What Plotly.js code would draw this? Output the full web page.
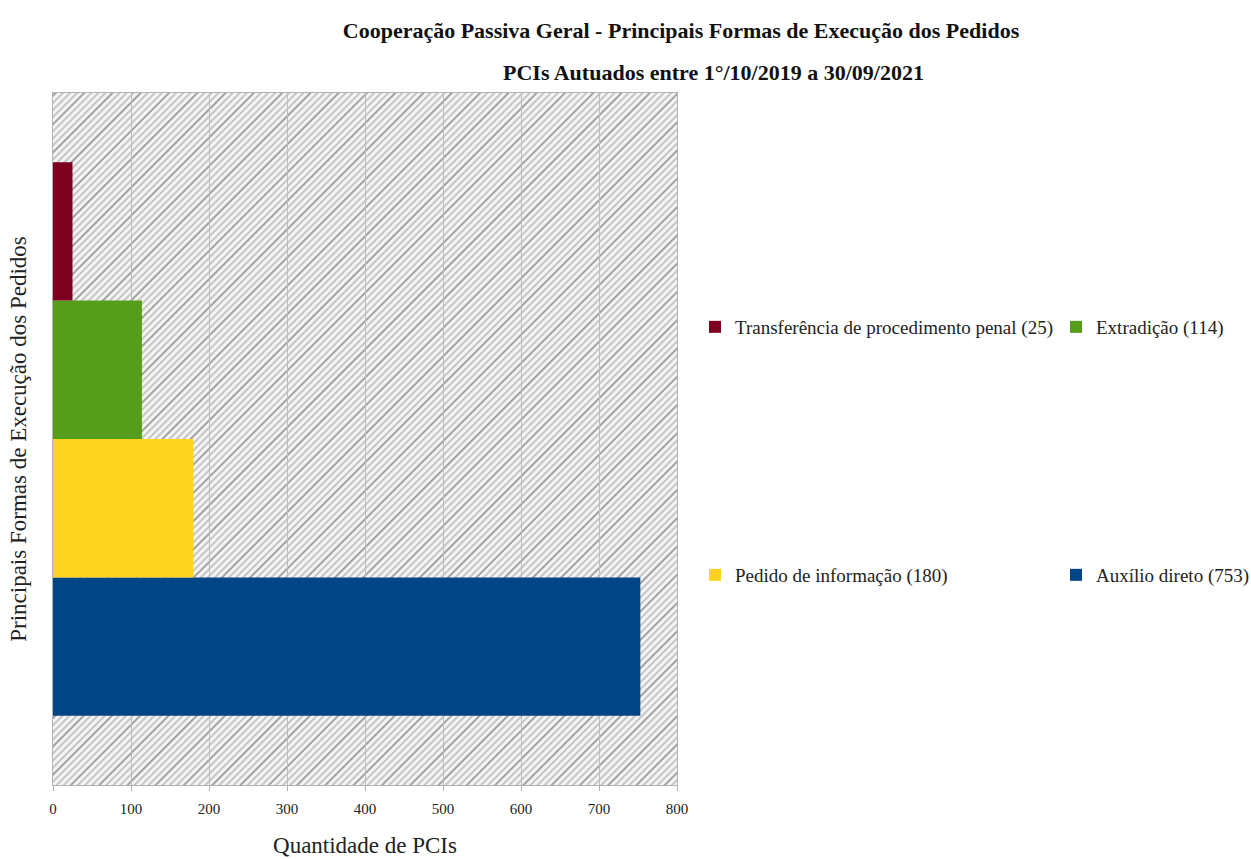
<!DOCTYPE html>
<html>
<head>
<meta charset="utf-8">
<script src="https://cdn.plot.ly/plotly-3.0.1.min.js"></script>
<style>html,body{margin:0;padding:0;background:#fff;}#chart{width:1251px;height:859px;}</style>
</head>
<body>
<div id="chart"></div>
<script>
// Data
const categoryLabel = ['PCIs'];
const seriesNames = ['Auxílio direto (753)', 'Pedido de informação (180)', 'Extradição (114)', 'Transferência de procedimento penal (25)'];
const seriesValues = [753, 180, 114, 25];
const seriesColors = ['#004586', '#ffd320', '#579d1c', '#7e0021'];
const legendIds = ['legend4', 'legend3', 'legend2', 'legend'];
const xTicks = [0, 100, 200, 300, 400, 500, 600, 700, 800];

const serif = 'Liberation Serif, Times New Roman, serif';

const traces = seriesNames.map((name, i) => ({
  type: 'bar',
  orientation: 'h',
  name: name,
  x: [seriesValues[i]],
  y: categoryLabel,
  marker: {color: seriesColors[i], line: {width: 0}},
  legend: legendIds[i],
  showlegend: true,
  hoverinfo: 'x+name'
}));

// hatched plot background
const W = 624, H = 692;
const svg = `<svg xmlns="http://www.w3.org/2000/svg" width="${W}" height="${H}" viewBox="0 0 ${W} ${H}" preserveAspectRatio="none">
<defs><pattern id="p" patternUnits="userSpaceOnUse" width="20" height="20" patternTransform="rotate(45)">
<rect width="20" height="20" fill="#f4f4f4"/>
<line x1="2" y1="0" x2="2" y2="20" stroke="#5e5e5e" stroke-width="1.1"/>
<line x1="7" y1="0" x2="7" y2="20" stroke="#a0a0a0" stroke-width="1.1"/>
<line x1="12" y1="0" x2="12" y2="20" stroke="#a0a0a0" stroke-width="1.1"/>
<line x1="17" y1="0" x2="17" y2="20" stroke="#a0a0a0" stroke-width="1.1"/>
</pattern></defs>
<rect width="${W}" height="${H}" fill="url(#p)"/></svg>`;
const hatchSrc = 'data:image/svg+xml;charset=utf-8,' + encodeURIComponent(svg);

function leg(xpx, ypx) {
  return {
    orientation: 'v',
    xref: 'paper', yref: 'paper',
    x: (xpx - 53) / 624,
    y: (785 - ypx) / 692,
    xanchor: 'left',
    yanchor: 'middle',
    font: {family: serif, size: 19, color: '#222'},
    bgcolor: 'rgba(0,0,0,0)',
    itemclick: false,
    itemdoubleclick: false,
    visible: true
  };
}

const layout = {
  width: 1251,
  height: 859,
  margin: {l: 53, r: 574, t: 93, b: 74, autoexpand: false},
  paper_bgcolor: '#ffffff',
  plot_bgcolor: 'rgba(0,0,0,0)',
  showlegend: true,
  barmode: 'group',
  bargap: 0.2,
  bargroupgap: 0,
  title: {
    text: '<b>Cooperação Passiva Geral - Principais Formas de Execução dos Pedidos</b>',
    font: {family: serif, size: 22, color: '#111'},
    xref: 'container', x: 681 / 1251, xanchor: 'center',
    yref: 'container', y: 1 - 30 / 859, yanchor: 'middle'
  },
  annotations: [{
    text: '<b>PCIs Autuados entre 1°/10/2019 a 30/09/2021</b>',
    xref: 'paper', yref: 'paper',
    x: (713 - 53) / 624, y: (785 - 72) / 692,
    xanchor: 'center', yanchor: 'middle',
    showarrow: false,
    font: {family: serif, size: 22, color: '#111'}
  }],
  xaxis: {
    range: [0, 800],
    tickvals: xTicks,
    ticktext: xTicks.map(String),
    showgrid: true,
    gridcolor: '#bdbdbd',
    gridwidth: 1,
    zeroline: false,
    showline: true,
    linecolor: '#b3b3b3',
    linewidth: 1,
    mirror: true,
    ticks: 'outside',
    ticklen: 5,
    tickcolor: '#b3b3b3',
    ticklabelstandoff: 5,
    tickfont: {family: serif, size: 15, color: '#222'},
    title: {text: 'Quantidade de PCIs', font: {family: serif, size: 23, color: '#222'}, standoff: 20},
    fixedrange: true
  },
  yaxis: {
    type: 'category',
    showticklabels: false,
    showgrid: false,
    zeroline: false,
    showline: true,
    linecolor: '#b3b3b3',
    mirror: true,
    ticks: '',
    title: {text: 'Principais Formas de Execução dos Pedidos', font: {family: serif, size: 23, color: '#222'}, standoff: 18},
    fixedrange: true
  },
  legend: leg(695, 327),
  legend2: leg(1056, 327),
  legend3: leg(695, 575),
  legend4: leg(1056, 575),
  images: [{
    source: hatchSrc,
    xref: 'paper', yref: 'paper',
    x: 0, y: 1, sizex: 1, sizey: 1,
    xanchor: 'left', yanchor: 'top',
    sizing: 'stretch',
    layer: 'below'
  }]
};

Plotly.newPlot('chart', traces, layout, {displayModeBar: false, responsive: false});
</script>
</body>
</html>
